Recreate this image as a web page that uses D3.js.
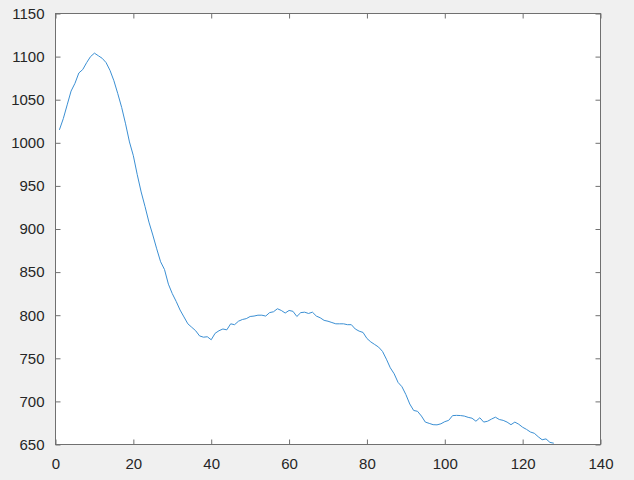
<!DOCTYPE html>
<html>
<head>
<meta charset="utf-8">
<script src="https://cdn.jsdelivr.net/npm/d3@7"></script>
<style>
  html, body { margin: 0; padding: 0; background: #f0f0f0; }
  svg { display: block; }
</style>
</head>
<body>
<script>
const xValues = d3.range(1, 129);
const yValues = [
  1015, 1028, 1044, 1060, 1069, 1081, 1085, 1093, 1100, 1104,
  1101, 1098, 1093, 1084, 1072, 1057, 1041, 1022, 1001, 985,
  963, 943, 926, 908, 893, 877, 862, 853, 836, 825,
  816, 806, 798, 790, 786, 782, 776, 774.5, 775, 771.5,
  779, 782, 784, 783, 790, 789, 793, 795, 796, 798.5,
  799, 800, 800, 799, 803, 804, 807.5, 805.5, 802.5, 805.5,
  804.5, 798.5, 803, 803.5, 802, 803.5, 799, 797, 794, 793,
  791.5, 790, 790, 790, 789, 789, 784, 781.5, 780, 773,
  769, 766, 763, 758, 749, 739, 732, 722, 717, 708,
  697, 689.5, 688.5, 683, 676, 674.5, 673, 672.8, 674, 676.5,
  678, 683.5, 683.8, 683.6, 683, 681.5, 680.5, 677, 681, 676,
  677, 679.5, 681.7, 679, 678, 676, 673, 676, 673.5, 670,
  667.5, 664.5, 663, 659, 655.5, 656.5, 652.5, 651.5
];
const xTicks = [0, 20, 40, 60, 80, 100, 120, 140];
const yTicks = [650, 700, 750, 800, 850, 900, 950, 1000, 1050, 1100, 1150];

(function () {
const W = 634, H = 480;
const pL = 55.5, pR = 600.5, pT = 13.5, pB = 444.5;

const svg = d3.select("body").append("svg").attr("width", W).attr("height", H);
svg.append("rect").attr("width", W).attr("height", H).attr("fill", "#f0f0f0");

const x = d3.scaleLinear().domain([0, 140]).range([pL, pR]);
const y = d3.scaleLinear().domain([650, 1150]).range([pB, pT]);

svg.append("rect").attr("x", pL).attr("y", pT)
  .attr("width", pR - pL).attr("height", pB - pT).attr("fill", "#ffffff");

svg.append("clipPath").attr("id", "clip").append("rect")
  .attr("x", pL).attr("y", pT).attr("width", pR - pL).attr("height", pB - pT);

const line = d3.line().x((d, i) => x(xValues[i])).y(d => y(d));
svg.append("path").datum(yValues)
  .attr("clip-path", "url(#clip)")
  .attr("fill", "none").attr("stroke", "#3b8fd3").attr("stroke-width", 1)
  .attr("d", line);

const axColor = "#707070";
const txtColor = "#262626";
const fontSize = "15px";
const tickLen = 5;
const fmt = d3.format("d");

function styleAxis(g) {
  g.select(".domain").remove();
  g.selectAll(".tick line").attr("stroke", axColor);
  g.selectAll(".tick text").attr("fill", txtColor)
    .style("font-family", "'Liberation Sans', Arial, Helvetica, sans-serif")
    .style("font-size", fontSize);
}

const gx = svg.append("g").attr("transform", `translate(0,${pB})`)
  .call(d3.axisBottom(x).tickValues(xTicks).tickFormat(fmt).tickSizeInner(-tickLen).tickSizeOuter(0).tickPadding(14));
styleAxis(gx);
const gxt = svg.append("g").attr("transform", `translate(0,${pT})`)
  .call(d3.axisTop(x).tickValues(xTicks).tickSizeInner(-tickLen).tickSizeOuter(0).tickFormat(""));
styleAxis(gxt);

const gy = svg.append("g").attr("transform", `translate(${pL},0)`)
  .call(d3.axisLeft(y).tickValues(yTicks).tickFormat(fmt).tickSizeInner(-tickLen).tickSizeOuter(0).tickPadding(11));
styleAxis(gy);
const gyr = svg.append("g").attr("transform", `translate(${pR},0)`)
  .call(d3.axisRight(y).tickValues(yTicks).tickSizeInner(-tickLen).tickSizeOuter(0).tickFormat(""));
styleAxis(gyr);

svg.append("rect").attr("x", pL).attr("y", pT)
  .attr("width", pR - pL).attr("height", pB - pT)
  .attr("fill", "none").attr("stroke", axColor).attr("stroke-width", 1);
})();
</script>
</body>
</html>
